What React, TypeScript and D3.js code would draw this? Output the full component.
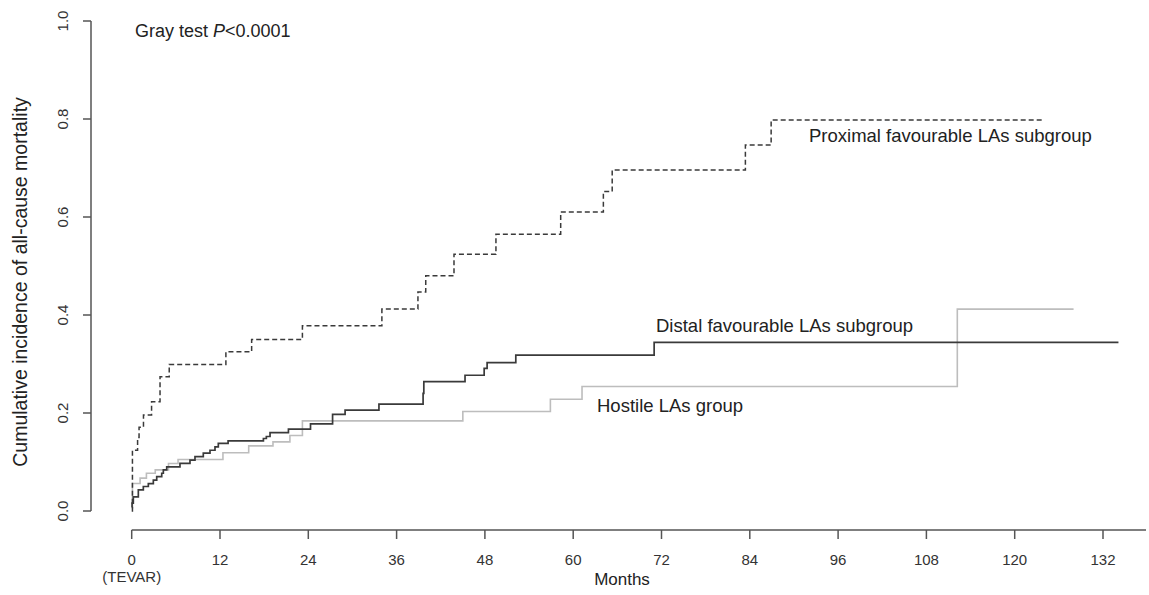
import React, { useEffect, useRef } from "react";
import * as d3 from "d3";

// Step data (months, cumulative incidence)
const proximalTimes = [0, 0.1, 0.8, 1.0, 1.6, 2.7, 3.85, 5.1, 12.8, 16.3, 23.2, 34.0, 38.9, 39.96, 43.8, 49.5, 58.3, 64.1, 65.3, 83.4, 86.9, 123.9];
const proximalValues = [0.0, 0.124, 0.15, 0.171, 0.196, 0.223, 0.274, 0.299, 0.325, 0.35, 0.378, 0.412, 0.447, 0.48, 0.524, 0.565, 0.61, 0.652, 0.696, 0.747, 0.798, 0.798];

const distalTimes = [0, 0.05, 0.22, 0.9, 1.58, 2.26, 2.94, 3.4, 4.08, 4.3, 4.76, 6.56, 7.92, 8.6, 9.73, 10.64, 11.32, 11.77, 13.1, 17.9, 18.3, 18.8, 21.3, 24.3, 27.3, 29.0, 33.6, 39.6, 39.7, 45.3, 47.9, 48.3, 52.2, 71.0, 134.1];
const distalValues = [0.008, 0.016, 0.029, 0.043, 0.05, 0.056, 0.063, 0.07, 0.077, 0.084, 0.09, 0.097, 0.104, 0.111, 0.118, 0.124, 0.131, 0.138, 0.143, 0.148, 0.152, 0.16, 0.167, 0.178, 0.197, 0.206, 0.218, 0.24, 0.264, 0.277, 0.291, 0.303, 0.318, 0.344, 0.344];

const hostileTimes = [0, 0.1, 1.14, 2.0, 3.2, 5.0, 6.3, 12.4, 15.9, 19.2, 21.5, 23.2, 45.0, 56.9, 61.2, 112.2, 128.0];
const hostileValues = [0.006, 0.056, 0.067, 0.077, 0.084, 0.097, 0.105, 0.119, 0.133, 0.141, 0.154, 0.184, 0.203, 0.228, 0.254, 0.412, 0.412];

const xTicks = [0, 12, 24, 36, 48, 60, 72, 84, 96, 108, 120, 132];
const yTicks = [0, 0.2, 0.4, 0.6, 0.8, 1.0];

const App: React.FC = () => {
  const svgRef = useRef<SVGSVGElement>(null);

  useEffect(() => {
    if (!svgRef.current) return;
    const svg = d3.select(svgRef.current);
    svg.selectAll("*").remove();

    const font = "Liberation Sans, Arial, sans-serif";
    const axisColor = "#555";

    const x = d3.scaleLinear().domain([0, 132]).range([131.7, 1103]);
    const y = d3.scaleLinear().domain([0, 1]).range([511, 21]);

    const line = d3
      .line<[number, number]>()
      .x((d) => x(d[0]))
      .y((d) => y(d[1]))
      .curve(d3.curveStepAfter);

    const series = [
      { t: hostileTimes, v: hostileValues, color: "#bdbdbd", dash: null, width: 1.6 },
      { t: distalTimes, v: distalValues, color: "#3a3a3a", dash: null, width: 1.7 },
      { t: proximalTimes, v: proximalValues, color: "#3a3a3a", dash: "5,3", width: 1.5 },
    ];

    series.forEach((s) => {
      const pts = s.t.map((t, i) => [t, s.v[i]] as [number, number]);
      svg
        .append("path")
        .attr("d", line(pts) || "")
        .attr("fill", "none")
        .attr("stroke", s.color)
        .attr("stroke-width", s.width)
        .attr("stroke-dasharray", s.dash);
    });

    // Y axis (R style, detached)
    const yAxis = svg.append("g").attr("transform", "translate(91,0)");
    yAxis
      .append("line")
      .attr("y1", y(0))
      .attr("y2", y(1))
      .attr("stroke", axisColor)
      .attr("stroke-width", 1.5);
    yTicks.forEach((v) => {
      yAxis
        .append("line")
        .attr("x1", 0)
        .attr("x2", -8)
        .attr("y1", y(v))
        .attr("y2", y(v))
        .attr("stroke", axisColor)
        .attr("stroke-width", 1.5);
      yAxis
        .append("text")
        .attr("transform", `translate(-23,${y(v)}) rotate(-90)`)
        .attr("text-anchor", "middle")
        .attr("font-family", font)
        .attr("font-size", 15)
        .attr("fill", "#333")
        .text(v.toFixed(1));
    });

    // X axis
    const xAxis = svg.append("g").attr("transform", "translate(0,530)");
    xAxis
      .append("line")
      .attr("x1", x(0))
      .attr("x2", 1146)
      .attr("stroke", axisColor)
      .attr("stroke-width", 1.5);
    xTicks.forEach((t) => {
      xAxis
        .append("line")
        .attr("x1", x(t))
        .attr("x2", x(t))
        .attr("y1", 0)
        .attr("y2", 9)
        .attr("stroke", axisColor)
        .attr("stroke-width", 1.5);
      xAxis
        .append("text")
        .attr("x", x(t))
        .attr("y", 35)
        .attr("text-anchor", "middle")
        .attr("font-family", font)
        .attr("font-size", 15)
        .attr("fill", "#333")
        .text(t);
    });
    xAxis
      .append("text")
      .attr("x", x(0))
      .attr("y", 52)
      .attr("text-anchor", "middle")
      .attr("font-family", font)
      .attr("font-size", 15)
      .attr("fill", "#333")
      .text("(TEVAR)");
    xAxis
      .append("text")
      .attr("x", 622)
      .attr("y", 55)
      .attr("text-anchor", "middle")
      .attr("font-family", font)
      .attr("font-size", 17)
      .attr("fill", "#222")
      .text("Months");

    // Y title
    svg
      .append("text")
      .attr("transform", "translate(27,282) rotate(-90)")
      .attr("text-anchor", "middle")
      .attr("font-family", font)
      .attr("font-size", 19.5)
      .attr("fill", "#222")
      .text("Cumulative incidence of all-cause mortality");

    // Annotations
    const gray = svg
      .append("text")
      .attr("x", 135)
      .attr("y", 37)
      .attr("font-family", font)
      .attr("font-size", 18)
      .attr("fill", "#222");
    gray.append("tspan").text("Gray test ");
    gray.append("tspan").attr("font-style", "italic").text("P");
    gray.append("tspan").text("<0.0001");

    const labels = [
      { text: "Proximal favourable LAs subgroup", x: 809, y: 142 },
      { text: "Distal favourable LAs subgroup", x: 656, y: 332 },
      { text: "Hostile LAs group", x: 597, y: 412 },
    ];
    labels.forEach((l) => {
      svg
        .append("text")
        .attr("x", l.x)
        .attr("y", l.y)
        .attr("font-family", font)
        .attr("font-size", 18.5)
        .attr("fill", "#222")
        .text(l.text);
    });
  }, []);

  return (
    <div style={{ position: "absolute", left: 0, top: 0 }}>
      <svg ref={svgRef} width={1149} height={595} style={{ display: "block", background: "#fff" }} />
    </div>
  );
};

export default App;
